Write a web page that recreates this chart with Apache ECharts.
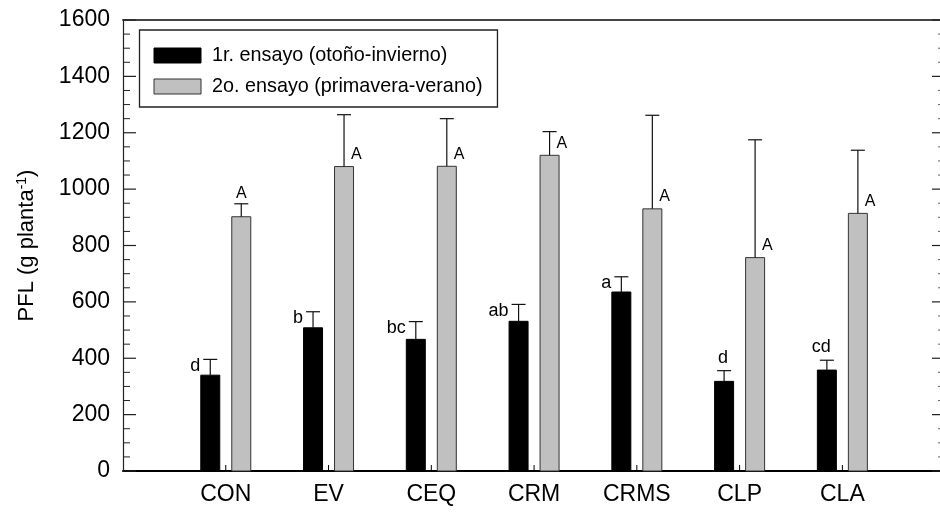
<!DOCTYPE html>
<html>
<head>
<meta charset="utf-8">
<script src="https://cdn.jsdelivr.net/npm/echarts@6/dist/echarts.min.js"></script>
<style>
  html, body { margin: 0; padding: 0; background: #fff; }
  #chart { width: 940px; height: 512px; }
</style>
</head>
<body>
<div id="chart"></div>
<script>
// Treatments on the horizontal axis
const categories = ['CON', 'EV', 'CEQ', 'CRM', 'CRMS', 'CLP', 'CLA'];
const seriesNames = ['1r. ensayo (otoño-invierno)', '2o. ensayo (primavera-verano)'];

// Fresh leaf weight (g planta^-1): mean and standard error per treatment
const trial1Mean = [340, 508, 467, 531, 635, 318, 358];
const trial1Err  = [56, 57, 63, 60, 54, 38, 35];
const trial1Letters = ['d', 'b', 'bc', 'ab', 'a', 'd', 'cd'];

const trial2Mean = [902, 1080, 1081, 1120, 930, 757, 914];
const trial2Err  = [46, 184, 169, 84, 332, 418, 224];
const trial2Letters = ['A', 'A', 'A', 'A', 'A', 'A', 'A'];

// Y axis tick values
const yTicks = [0, 200, 400, 600, 800, 1000, 1200, 1400, 1600];

const FONT = '"Liberation Sans", Arial, Helvetica, sans-serif';
const X_MAX = 7.95;
const Y_MIN = yTicks[0];
const Y_MAX = yTicks[yTicks.length - 1];
const Y_STEP = yTicks[1] - yTicks[0];
const MINOR_PER_MAJOR = 4;

// Letters for these treatments sit above the error cap instead of beside it
const trial1AboveCap = new Set(['CLP', 'CLA']);
const trial2AboveCap = new Set(['CON']);

function barRenderer(opts) {
  return function (params, api) {
    const i = params.dataIndex;
    const x = api.value(0), v = api.value(1), e = api.value(2);
    const base = api.coord([x, 0]);
    const top = api.coord([x, v]);
    const cap = api.coord([x, v + e]);
    const cx = base[0] + opts.offset;
    const half = 9.5, capHalf = 7;
    const lab = opts.label(categories[i], cx, top[1], cap[1]);
    return {
      type: 'group',
      children: [
        { type: 'rect',
          shape: { x: cx - half, y: top[1], width: half * 2, height: base[1] - top[1] },
          style: { fill: opts.fill, stroke: opts.stroke, lineWidth: 1 } },
        { type: 'line',
          shape: { x1: cx, y1: top[1], x2: cx, y2: cap[1] },
          style: { stroke: '#111', lineWidth: 1.2 } },
        { type: 'line',
          shape: { x1: cx - capHalf, y1: cap[1], x2: cx + capHalf, y2: cap[1] },
          style: { stroke: '#111', lineWidth: 1.2 } },
        { type: 'text', x: lab.x, y: lab.y,
          style: { text: opts.letters[i], fill: '#000', fontFamily: FONT,
                   fontSize: opts.fontSize, align: lab.align, verticalAlign: 'middle' } }
      ]
    };
  };
}

// Inward-pointing ticks on the left and right frame edges (major + minor)
const yTickValues = [];
for (let v = Y_MIN; v <= Y_MAX; v += Y_STEP / MINOR_PER_MAJOR) yTickValues.push(v);

function yTickRenderer(params, api) {
  const v = api.value(1);
  const major = (v - Y_MIN) % Y_STEP === 0;
  const L = api.coord([0, v]);
  const R = api.coord([X_MAX, v]);
  const lenL = major ? 13 : 7;
  const lenR = major ? 8 : 2;
  return {
    type: 'group',
    children: [
      { type: 'line', shape: { x1: L[0], y1: L[1], x2: L[0] + lenL, y2: L[1] },
        style: { stroke: '#222', lineWidth: major ? 1.2 : 1 } },
      { type: 'line', shape: { x1: R[0] - lenR, y1: R[1], x2: R[0], y2: R[1] },
        style: { stroke: major ? '#222' : '#666', lineWidth: major ? 1.2 : 1 } }
    ]
  };
}

// Small upward ticks at each treatment position on the bottom axis
function xTickRenderer(params, api) {
  const p = api.coord([api.value(0), Y_MIN]);
  return { type: 'line', shape: { x1: p[0], y1: p[1], x2: p[0], y2: p[1] - 6 },
           style: { stroke: '#000', lineWidth: 1 } };
}

const chart = echarts.init(document.getElementById('chart'), null, { renderer: 'canvas' });

chart.setOption({
  animation: false,
  backgroundColor: '#fff',
  textStyle: { fontFamily: FONT },
  grid: { left: 123, right: 0, top: 20, bottom: 41, containLabel: false },
  legend: {
    orient: 'vertical',
    left: 139.5, top: 30,
    padding: [15.5, 15, 10.5, 14],
    itemGap: 11,
    itemWidth: 47, itemHeight: 15,
    icon: 'rect',
    backgroundColor: '#fff',
    borderColor: '#222', borderWidth: 1.3,
    textStyle: { fontFamily: FONT, fontSize: 19.8, color: '#000', padding: [0, 0, 0, 6] },
    data: [
      { name: seriesNames[0], itemStyle: { color: '#000', borderColor: '#000', borderWidth: 1 } },
      { name: seriesNames[1], itemStyle: { color: '#c0c0c0', borderColor: '#333', borderWidth: 1 } }
    ]
  },
  xAxis: [
    {
      type: 'value', position: 'bottom',
      min: 0, max: X_MAX, interval: 1,
      splitLine: { show: false },
      axisLine: { onZero: false, lineStyle: { color: '#000', width: 2 } },
      axisTick: { show: false },
      axisLabel: {
        fontFamily: FONT, fontSize: 23, color: '#000', margin: 12,
        showMaxLabel: false, showMinLabel: false,
        formatter: v => (Number.isInteger(v) && v >= 1 && v <= categories.length) ? categories[v - 1] : ''
      }
    },
    {
      type: 'value', position: 'top',
      min: 0, max: X_MAX,
      splitLine: { show: false },
      axisLine: { onZero: false, lineStyle: { color: '#444', width: 2 } },
      axisTick: { show: false },
      axisLabel: { show: false }
    }
  ],
  yAxis: [
    {
      type: 'value', position: 'left',
      min: Y_MIN, max: Y_MAX, interval: Y_STEP,
      splitLine: { show: false },
      axisLine: { show: true, onZero: false, lineStyle: { color: '#222', width: 1.2 } },
      axisTick: { show: false },
      axisLabel: { fontFamily: FONT, fontSize: 23, color: '#000', margin: 13,
                   formatter: v => String(v) },
      name: '{t|PFL (g planta}{s|-1}{t|)}',
      nameLocation: 'middle', nameRotate: 90, nameGap: 84,
      nameTextStyle: {
        rich: {
          t: { fontFamily: FONT, fontSize: 22, color: '#000', lineHeight: 24 },
          s: { fontFamily: FONT, fontSize: 14, color: '#000', verticalAlign: 'top', lineHeight: 14 }
        }
      }
    },
    {
      type: 'value', position: 'right',
      min: Y_MIN, max: Y_MAX, interval: Y_STEP,
      splitLine: { show: false },
      axisLine: { show: false },
      axisTick: { show: false },
      axisLabel: { show: false }
    }
  ],
  series: [
    {
      name: 'yTicks',
      type: 'custom', silent: true,
      xAxisIndex: 0, yAxisIndex: 0,
      encode: { x: 0, y: 1 },
      data: yTickValues.map(v => [0, v]),
      renderItem: yTickRenderer
    },
    {
      name: 'xTicks',
      type: 'custom', silent: true,
      xAxisIndex: 0, yAxisIndex: 0,
      encode: { x: 0, y: 1 },
      data: categories.map((c, i) => [i + 1, Y_MIN]),
      renderItem: xTickRenderer
    },
    {
      name: seriesNames[0],
      type: 'custom',
      xAxisIndex: 0, yAxisIndex: 0,
      itemStyle: { color: '#000' },
      encode: { x: 0, y: 1 },
      data: categories.map((c, i) => [i + 1, trial1Mean[i], trial1Err[i]]),
      renderItem: barRenderer({
        offset: -15.5, fill: '#000', stroke: '#000', letters: trial1Letters, fontSize: 18,
        label: (cat, cx, top, cap) => trial1AboveCap.has(cat)
          ? { x: cx + 4, y: cap - 12.8, align: 'right' }
          : { x: cx - 10, y: cap + 6.5, align: 'right' }
      })
    },
    {
      name: seriesNames[1],
      type: 'custom',
      xAxisIndex: 0, yAxisIndex: 0,
      itemStyle: { color: '#c0c0c0' },
      encode: { x: 0, y: 1 },
      data: categories.map((c, i) => [i + 1, trial2Mean[i], trial2Err[i]]),
      renderItem: barRenderer({
        offset: 15.5, fill: '#c0c0c0', stroke: '#333', letters: trial2Letters, fontSize: 16,
        label: (cat, cx, top, cap) => trial2AboveCap.has(cat)
          ? { x: cx, y: cap - 10, align: 'center' }
          : { x: cx + 7, y: top - 12, align: 'left' }
      })
    }
  ]
});
</script>
</body>
</html>
